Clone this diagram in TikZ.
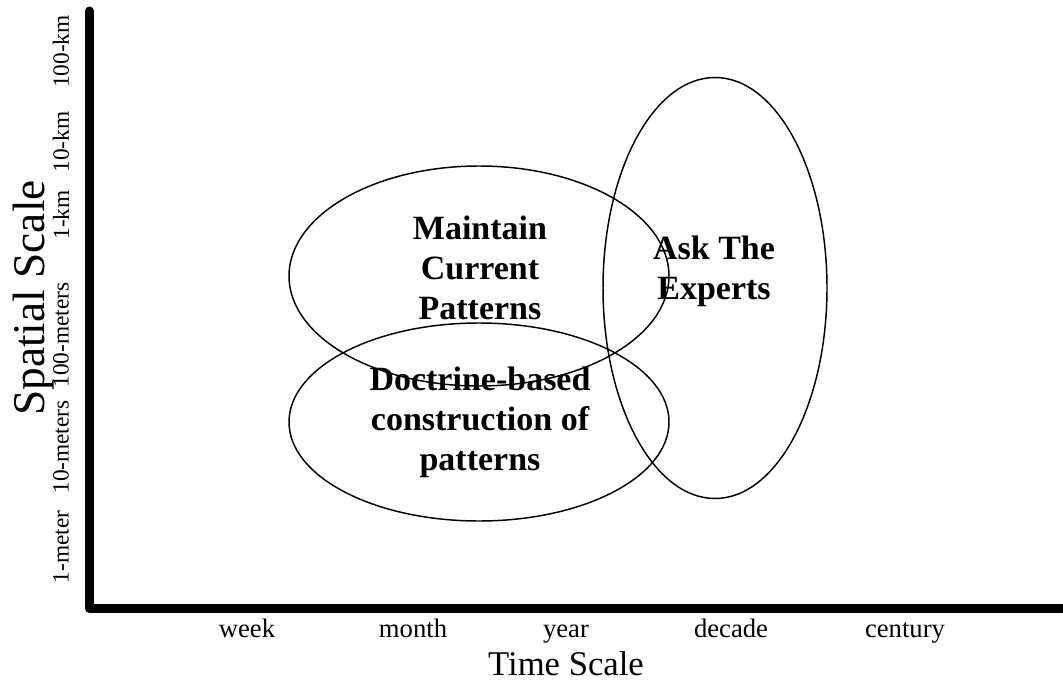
\documentclass[tikz,border=0pt]{standalone}
\usepackage{fontspec}
\setmainfont{Liberation Serif}
\usetikzlibrary{positioning}

\begin{document}
\begin{tikzpicture}[
    x=0.75pt, y=-0.75pt,
    axis/.style={line width=6.75pt, line cap=round, line join=round},
    zone/.style={draw, line width=1.1pt},
    timelabel/.style={font=\fontsize{20}{24}\selectfont, anchor=base},
    spacelabel/.style={font=\fontsize{17.5}{21}\selectfont, rotate=90},
    axistitle/.style={font=\fontsize{26}{30}\selectfont, anchor=base},
    zonetext/.style={font=\bfseries\fontsize{25.5}{30}\selectfont, align=center}
]
    \useasboundingbox (0,0) rectangle (1063,684);

    % Axes
    \coordinate (top) at (89.5,11);
    \coordinate (origin) at (89.5,608.5);
    \coordinate (right) at (1063,608.5);
    \draw[axis] (top) -- (origin) -- (right);

    % Spatial scale labels
    \node[spacelabel] (meter1) at (61,547) {1-meter};
    \node[spacelabel] (meter10) at (61,447) {10-meters};
    \node[spacelabel] (meter100) at (61,335) {100-meters};
    \node[spacelabel] (km1) at (61,215) {1-km};
    \node[spacelabel] (km10) at (61,142) {10-km};
    \node[spacelabel] (km100) at (61,51.5) {100-km};
    \node[axistitle, rotate=90, font=\fontsize{34}{40}\selectfont] (spatial) at (44,298) {Spatial Scale};

    % Time scale labels
    \node[timelabel] (week) at (247,637) {week};
    \node[timelabel] (month) at (413,637) {month};
    \node[timelabel] (year) at (566,637) {year};
    \node[timelabel] (decade) at (731,637) {decade};
    \node[timelabel] (century) at (905,637) {century};
    \node[axistitle] (time) at (566,675) {Time Scale};

    % Zones
    \draw[zone] (479,276) ellipse [x radius=190, y radius=110];
    \draw[zone] (479,422) ellipse [x radius=190, y radius=99];
    \draw[zone] (715,288) ellipse [x radius=112, y radius=210.5];

    \node[zonetext] (maintain) at (480,267.5) {Maintain\\Current\\Patterns};
    \node[zonetext] (doctrine) at (480,422) {Doctrine-based\\construction of\\patterns};
    \node[zonetext] (experts) at (714,271) {Ask The\\Experts};

\end{tikzpicture}
\end{document}
